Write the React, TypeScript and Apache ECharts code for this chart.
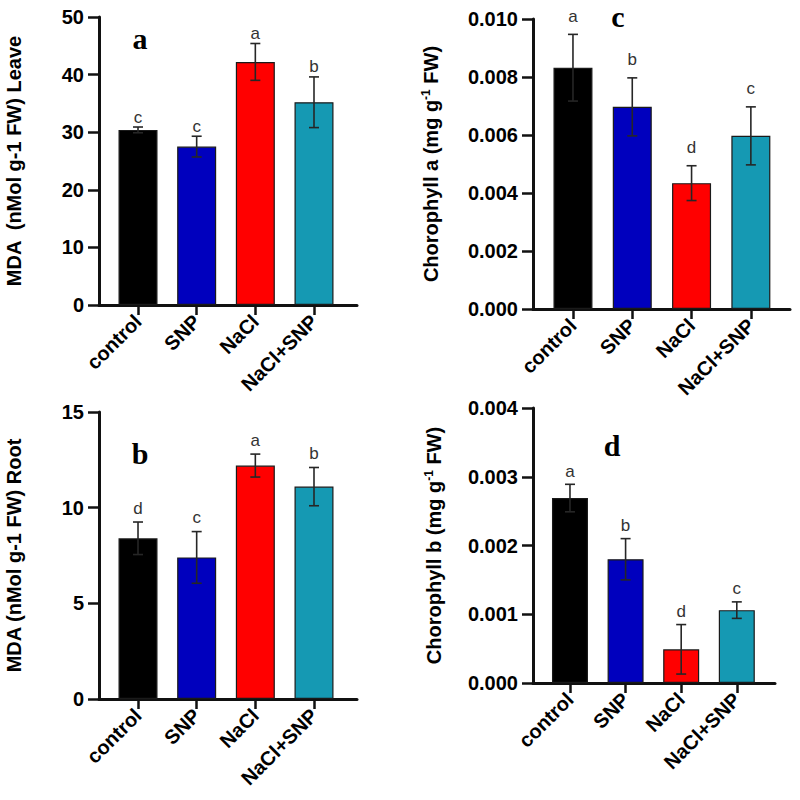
import React, { useEffect, useRef } from "react";
import * as echarts from "echarts";

const categories = ["control", "SNP", "NaCl", "NaCl+SNP"];
const barColors = ["#000000", "#0000BE", "#FF0000", "#1599B3"];

const mdaLeaveMean = [30.4, 27.5, 42.2, 35.2];
const mdaLeaveErr = [0.5, 1.8, 3.2, 4.4];
const mdaLeaveLetters = ["c", "c", "a", "b"];

const mdaRootMean = [8.4, 7.4, 12.2, 11.1];
const mdaRootErr = [0.85, 1.35, 0.6, 1.0];
const mdaRootLetters = ["d", "c", "a", "b"];

const chlAMean = [0.00832, 0.00697, 0.00434, 0.00597];
const chlAErr = [0.00115, 0.001, 0.0006, 0.001];
const chlALetters = ["a", "b", "d", "c"];

const chlBMean = [0.00269, 0.0018, 0.00049, 0.00106];
const chlBErr = [0.0002, 0.0003, 0.00036, 0.00012];
const chlBLetters = ["a", "b", "d", "c"];

const SANS = "'Liberation Sans', Arial, sans-serif";
const SERIF = "'Liberation Serif', 'Times New Roman', serif";

type Panel = {
  mean: number[];
  err: number[];
  letters: string[];
  grid: { left: number; top: number; width: number; height: number };
  xMin: number;
  xMax: number;
  yMax: number;
  yInterval: number;
  decimals: number;
  name: string;
  nameGap: number;
  barWidth: number;
  letterOffset: number;
};

const panels: Panel[] = [
  {
    mean: mdaLeaveMean, err: mdaLeaveErr, letters: mdaLeaveLetters,
    grid: { left: 99, top: 17, width: 258, height: 288 },
    xMin: -0.665, xMax: 3.733, yMax: 50, yInterval: 10, decimals: 0,
    name: "MDA  (nMol g-1 FW) Leave", nameGap: 75, barWidth: 39, letterOffset: 10,
  },
  {
    mean: mdaRootMean, err: mdaRootErr, letters: mdaRootLetters,
    grid: { left: 99, top: 412, width: 258, height: 287 },
    xMin: -0.665, xMax: 3.733, yMax: 15, yInterval: 5, decimals: 0,
    name: "MDA (nMol g-1 FW) Root", nameGap: 75, barWidth: 39, letterOffset: 14,
  },
  {
    mean: chlAMean, err: chlAErr, letters: chlALetters,
    grid: { left: 533, top: 19, width: 257, height: 290 },
    xMin: -0.674, xMax: 3.66, yMax: 0.01, yInterval: 0.002, decimals: 3,
    name: "Chorophyll a (mg g{sup|-1} FW)", nameGap: 91, barWidth: 39, letterOffset: 18,
  },
  {
    mean: chlBMean, err: chlBErr, letters: chlBLetters,
    grid: { left: 533, top: 408, width: 242, height: 275 },
    xMin: -0.665, xMax: 3.687, yMax: 0.004, yInterval: 0.001, decimals: 3,
    name: "Chorophyll b (mg g{sup|-1} FW)", nameGap: 88, barWidth: 36, letterOffset: 13,
  },
];

const panelLabels = [
  { text: "a", x: 140, y: 38 },
  { text: "b", x: 140, y: 453 },
  { text: "c", x: 618, y: 16 },
  { text: "d", x: 612, y: 445 },
];

function buildOption() {
  const grid: any[] = [];
  const xAxis: any[] = [];
  const yAxis: any[] = [];
  const series: any[] = [];
  panels.forEach((p, k) => {
    grid.push({ ...p.grid, containLabel: false });
    xAxis.push({
      type: "value",
      gridIndex: k,
      min: p.xMin,
      max: p.xMax,
      splitLine: { show: false },
      axisLine: { show: true, onZero: false, lineStyle: { color: "#111", width: 3 } },
      axisTick: {
        show: true,
        customValues: [0, 1, 2, 3],
        length: 10,
        lineStyle: { color: "#111", width: 2.5 },
      },
      axisLabel: {
        show: true,
        customValues: [0, 1, 2, 3],
        rotate: 45,
        margin: 13,
        formatter: (v: number) => categories[Math.round(v)] ?? "",
        color: "#000",
        fontFamily: SANS,
        fontWeight: "bold",
        fontSize: 20,
      },
    });
    yAxis.push({
      type: "value",
      gridIndex: k,
      min: 0,
      max: p.yMax,
      interval: p.yInterval,
      splitLine: { show: false },
      axisLine: { show: true, onZero: false, lineStyle: { color: "#111", width: 3 } },
      axisTick: { show: true, length: 11, lineStyle: { color: "#111", width: 2.5 } },
      axisLabel: {
        margin: 15,
        color: "#000",
        fontFamily: SANS,
        fontWeight: "bold",
        fontSize: 20,
        formatter: (v: number) => v.toFixed(p.decimals),
      },
      name: p.name,
      nameLocation: "middle",
      nameGap: p.nameGap,
      nameTextStyle: {
        color: "#000",
        fontFamily: SANS,
        fontWeight: "bold",
        fontSize: 20,
        rich: {
          sup: {
            fontFamily: SANS,
            fontWeight: "bold",
            fontSize: 12,
            color: "#000",
            verticalAlign: "top",
            padding: [0, 0, 10, 0],
          },
        },
      },
    });
    series.push({
      type: "bar",
      xAxisIndex: k,
      yAxisIndex: k,
      barWidth: p.barWidth,
      data: p.mean.map((v, i) => ({
        value: [i, v],
        itemStyle: { color: barColors[i], borderColor: "#1a1a1a", borderWidth: 1.2 },
      })),
      z: 2,
    });
    series.push({
      type: "custom",
      xAxisIndex: k,
      yAxisIndex: k,
      z: 5,
      encode: { x: 0, y: 1 },
      data: p.mean.map((v, i) => [i, v, p.err[i]]),
      renderItem: (params: any, api: any) => {
        const i = api.value(0);
        const m = api.value(1);
        const e = api.value(2);
        const top = api.coord([i, m + e]);
        const bot = api.coord([i, m - e]);
        const hw = 5;
        const st = { stroke: "#262626", lineWidth: 1.6 };
        return {
          type: "group",
          children: [
            { type: "line", shape: { x1: top[0], y1: top[1], x2: bot[0], y2: bot[1] }, style: st },
            { type: "line", shape: { x1: top[0] - hw, y1: top[1], x2: top[0] + hw, y2: top[1] }, style: st },
            { type: "line", shape: { x1: bot[0] - hw, y1: bot[1], x2: bot[0] + hw, y2: bot[1] }, style: st },
            {
              type: "text",
              x: top[0],
              y: top[1] - p.letterOffset,
              style: {
                text: p.letters[params.dataIndex],
                fill: "#333",
                fontFamily: SANS,
                fontSize: 17,
                align: "center",
                verticalAlign: "middle",
              },
            },
          ],
        };
      },
    });
  });

  const graphic = panelLabels.map((l) => ({
    type: "text",
    x: l.x,
    y: l.y,
    style: {
      text: l.text,
      fill: "#000",
      fontFamily: SERIF,
      fontWeight: "bold",
      fontSize: 30,
      align: "center",
      verticalAlign: "middle",
    },
  }));

  return {
    animation: false,
    backgroundColor: "#ffffff",
    grid,
    xAxis,
    yAxis,
    series,
    graphic,
  };
}

export default function App() {
  const ref = useRef<HTMLDivElement>(null);
  useEffect(() => {
    if (!ref.current) return;
    const chart = echarts.init(ref.current, undefined, { renderer: "svg" });
    chart.setOption(buildOption());
    return () => chart.dispose();
  }, []);
  return (
    <div
      ref={ref}
      style={{ position: "fixed", left: 0, top: 0, width: 800, height: 800, background: "#fff" }}
    />
  );
}
